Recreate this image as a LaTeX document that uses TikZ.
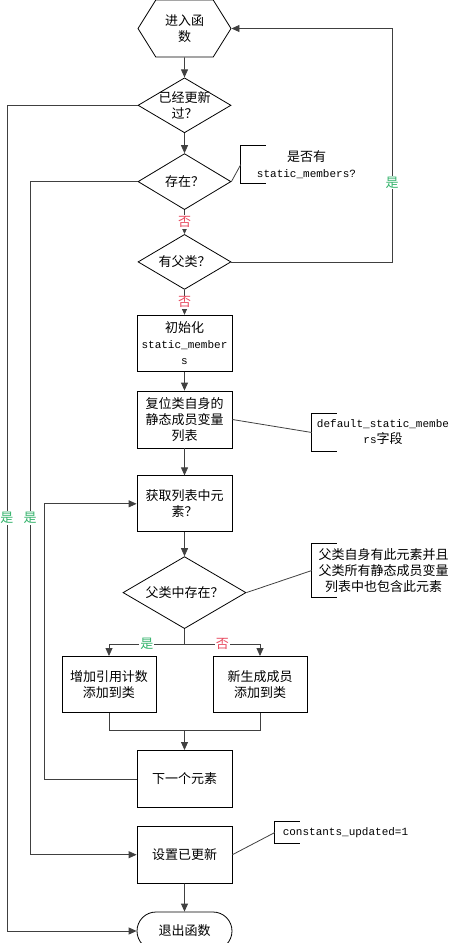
\documentclass[tikz,border=0pt]{standalone}
\usepackage{fontspec}
\setmainfont{Noto Sans CJK SC}
\newfontfamily\monofont{Liberation Mono}
\usetikzlibrary{positioning,arrows.meta,shapes.geometric,shapes.misc,shapes.symbols}
\definecolor{yesGreen}{RGB}{51,179,107}
\definecolor{noRed}{RGB}{232,74,95}
\newcommand{\code}[1]{{\monofont\fontsize{11}{16}\selectfont #1}}
\newcommand{\zw}[1]{\makebox[0pt]{#1}}
\tikzstyle{arrow} = [line width=.8pt, black!75, ->, >={Triangle[length=8pt,width=7pt]}]
\tikzstyle{line} = [line width=.8pt, black!75]
\tikzstyle{yes} = [fill=white, text=yesGreen, inner sep=1pt, font=\fontsize{13}{16}\selectfont]
\tikzstyle{no} = [fill=white, text=noRed, inner sep=1pt, font=\fontsize{13}{16}\selectfont]

\begin{document}
\begin{tikzpicture}[x=1pt, y=-1pt]
\tikzset{%
	block/.style = { rectangle, draw=black, line width=.8pt, minimum width=95pt, minimum height=56pt, inner sep=0pt, align=center, font=\fontsize{13}{16}\selectfont },
	decision/.style = { diamond, draw=black, line width=.8pt, minimum width=93pt, minimum height=55pt, inner sep=0pt, align=center, font=\fontsize{13}{16}\selectfont },
	start/.style = { signal, signal to=west and east, signal pointer angle=116, draw=black, line width=.8pt, minimum width=93pt, minimum height=57pt, inner sep=0pt, align=center, font=\fontsize{13}{16}\selectfont },
	stop/.style = { rounded rectangle, draw=black, line width=.8pt, minimum width=95pt, minimum height=38pt, inner sep=0pt, font=\fontsize{13}{16}\selectfont },
	note/.style = { rectangle, inner sep=0pt, align=center, font=\fontsize{13}{16}\selectfont }
}
\useasboundingbox (0,0) rectangle (452,943);

\node(Enter)		[start] at (184.5,28.5)
								{进入函\\数};
\node(Updated)		[decision, below=20pt of Enter]
								{\zw{已经更新}\\\zw{过？}};
\node(Exists)		[decision, below=20pt of Updated, minimum height=56pt]
								{\zw{存在？}};
\node(HasParent)	[decision, below=24pt of Exists]
								{\zw{有父类？}};
\node(Init)			[block, below=25pt of HasParent]
								{初始化\\\code{static\_member}\\\code{s}};
\node(Reset)		[block, below=19pt of Init, minimum height=57pt]
								{复位类自身的\\静态成员变量\\列表};
\node(Fetch)		[block, below=27pt of Reset]
								{获取列表中元\\素？};
\node(InParent)		[decision, below=24pt of Fetch, minimum width=123pt, minimum height=72pt]
								{\zw{父类中存在？}};
\node(AddRef)		[block, below=27pt of InParent.south, xshift=-75.5pt, minimum width=94pt]
								{增加引用计数\\添加到类};
\node(AddNew)		[block, below=27pt of InParent.south, xshift=75.5pt, minimum width=94pt]
								{新生成成员\\添加到类};
\node(Next)			[block, below=121pt of InParent, minimum height=57pt]
								{下一个元素};
\node(SetUpdated)	[block, below=18pt of Next, minimum height=57pt]
								{设置已更新};
\node(Exit)			[stop, below=28pt of SetUpdated]
								{退出函数};

\node(NoteExists)	[note, minimum width=131pt, minimum height=37pt] at (306.5,164.5)
								{是否有\\\code{static\_members?}};
\node(NoteReset)	[note, minimum width=142pt, minimum height=37pt] at (383,432.5)
								{\code{default\_static\_membe}\\\code{rs}字段};
\node(NoteParent)	[note, minimum width=143pt, minimum height=53pt] at (383.5,570.5)
								{父类自身有此元素并且\\父类所有静态成员变量\\列表中也包含此元素};
\node(NoteFlag)		[note, minimum width=141pt, minimum height=21pt] at (345.5,832.5)
								{\code{constants\_updated=1}};

\coordinate [below=15pt of InParent.south] (Split);
\coordinate [below=18pt of AddRef.south] (Join);
\coordinate (SkipA) at (7,0);
\coordinate (SkipB) at (30,0);
\coordinate (LoopX) at (44,0);
\coordinate (BackX) at (392,0);

% main column
\draw [arrow]	(Enter) -- (Updated);
\draw [arrow]	(Updated) -- (Exists);
\draw [arrow]	(Exists) -- node[no]{否} (HasParent);
\draw [arrow]	(HasParent) -- node[no]{否} (Init);
\draw [arrow]	(Init) -- (Reset);
\draw [arrow]	(Reset) -- (Fetch);
\draw [arrow]	(Fetch) -- (InParent);
\draw [arrow]	(SetUpdated) -- (Exit);

\draw [line]	(InParent) -- (Split);
\draw [arrow]	(Split) -- node[yes]{是} (Split -| AddRef.north) -- (AddRef);
\draw [arrow]	(Split) -- node[no]{否} (Split -| AddNew.north) -- (AddNew);
\draw [line]	(AddRef) -- (Join) -- (Join -| AddNew.south) -- (AddNew);
\draw [arrow]	(Join -| Next.north) -- (Next);

% loops
\draw [arrow]	(Next.west) -- (Next.west -| LoopX) -- (Fetch.west -| LoopX) -- (Fetch.west);
\draw [arrow]	(Updated.west) -- (Updated.west -| SkipA) -- node[yes]{是} (Exit.west -| SkipA) -- (Exit.west);
\draw [arrow]	(Exists.west) -- (Exists.west -| SkipB) -- node[yes]{是} (SetUpdated.west -| SkipB) -- (SetUpdated.west);
\draw [arrow]	(HasParent.east) -- (HasParent.east -| BackX) -- node[yes, pos=.34]{是} (Enter.east -| BackX) -- (Enter.east);

% notes
\foreach \n in {NoteExists, NoteReset, NoteParent, NoteFlag}
	\draw [line, black] ([xshift=25pt]\n.north west) -- (\n.north west) -- (\n.south west) -- ([xshift=25pt]\n.south west);
\draw [line]	(Exists.east) -- (NoteExists.west);
\draw [line]	(Reset.east) -- (NoteReset.west);
\draw [line]	(InParent.east) -- (NoteParent.west);
\draw [line]	(SetUpdated.east) -- (NoteFlag.west);

\end{tikzpicture}
\end{document}
